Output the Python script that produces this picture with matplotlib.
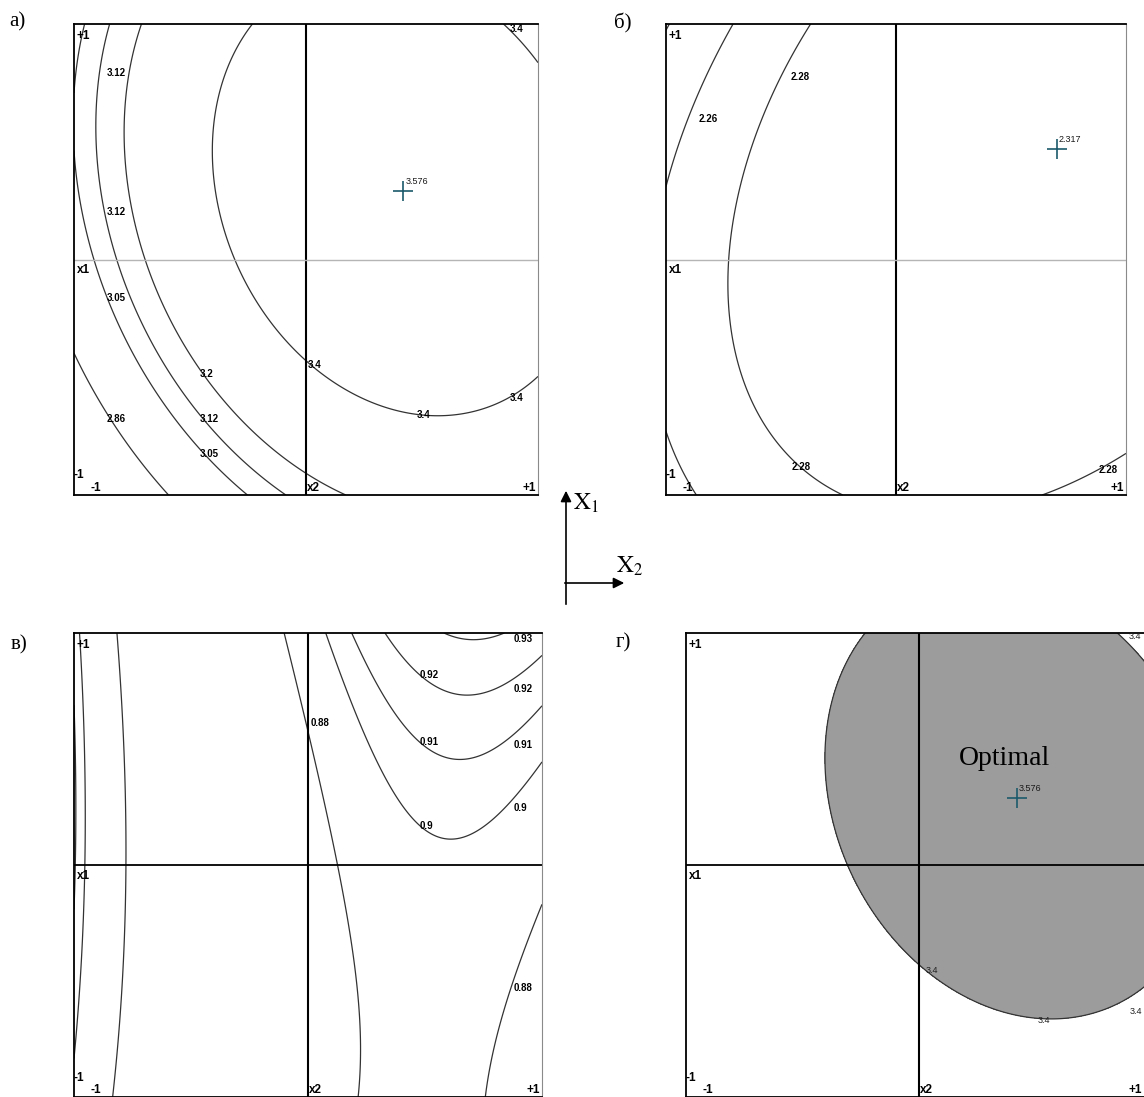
import numpy as np
import matplotlib.pyplot as plt

plt.rcParams['mathtext.fontset'] = 'stix'

W, H = 1144, 1097  # размер рисунка, px

# Коэффициенты моделей в кодированных факторах: b0, b1, b2, b12, b11, b22
# (x2 - по горизонтали, x1 - по вертикали)
coef_a = [3.5018, 0.1509, 0.2492, -0.083, -0.200, -0.268]
coef_b = [2.3075, 0.00673, 0.0226, 0.01416, -0.0177, -0.0209]
coef_c = [0.8695, 0.01235, 0.09305, 0.01743, 0.01022, -0.0778]

levels_a = [2.86, 3.05, 3.12, 3.2, 3.4]
levels_b = [2.24, 2.26, 2.28]
levels_c = [0.70, 0.71, 0.75, 0.88, 0.9, 0.91, 0.92, 0.93]
level_opt = 3.4

# подписи изолиний: текст, x2, x1
labels_a = [('3.12', -0.86, 0.79), ('3.12', -0.86, 0.20), ('3.05', -0.86, -0.165),
            ('3.2', -0.46, -0.485), ('2.86', -0.86, -0.678), ('3.12', -0.46, -0.678),
            ('3.05', -0.46, -0.826), ('3.4', 0.006, -0.45), ('3.4', 0.478, -0.661),
            ('3.4', 0.879, -0.586), ('3.4', 0.879, 0.98)]
labels_b = [('2.28', -0.459, 0.775), ('2.26', -0.858, 0.595),
            ('2.28', -0.454, -0.882), ('2.28', 0.88, -0.893)]
labels_c = [('0.93', 0.878, 0.974), ('0.92', 0.478, 0.821), ('0.92', 0.878, 0.76),
            ('0.88', 0.012, 0.614), ('0.91', 0.478, 0.529), ('0.91', 0.878, 0.519),
            ('0.9', 0.878, 0.246), ('0.9', 0.478, 0.167), ('0.88', 0.878, -0.529)]
labels_d = [('3.4', 0.90, 0.985), ('3.4', 0.03, -0.455), ('3.4', 0.51, -0.67),
            ('3.4', 0.905, -0.63)]

LINE = '#333333'
CROSS = '#1d5a6b'
SANS = 'Liberation Sans'
SERIF = 'Liberation Serif'


def surface(c, x2, x1):
    b0, b1, b2, b12, b11, b22 = c
    return b0 + b1 * x1 + b2 * x2 + b12 * x1 * x2 + b11 * x1 ** 2 + b22 * x2 ** 2


def optimum(c):
    b0, b1, b2, b12, b11, b22 = c
    x1, x2 = np.linalg.solve([[2 * b11, b12], [b12, 2 * b22]], [-b1, -b2])
    return x2, x1, surface(c, x2, x1)


def add_panel(fig, rect, coef, levels, labels, hcolor, show_opt=False,
              fill_level=None, bold=True, right_tick=0.995):
    l, t, r, b = rect
    ax = fig.add_axes([l / W, 1 - b / H, (r - l) / W, (b - t) / H])
    g = np.linspace(-1, 1, 401)
    x2, x1 = np.meshgrid(g, g)
    z = surface(coef, x2, x1)
    if fill_level is not None:
        ax.contourf(x2, x1, z, levels=[fill_level, z.max() + 1], colors=['#9c9c9c'])
    ax.contour(x2, x1, z, levels=levels, colors=LINE, linewidths=0.9)
    ax.axvline(0, color='k', lw=1.5)
    ax.axhline(0, color=hcolor, lw=1.0 if hcolor != 'k' else 1.3)
    ax.set_xlim(-1, 1)
    ax.set_ylim(-1, 1)
    ax.set_xticks([])
    ax.set_yticks([])
    for side in ['top', 'left', 'bottom']:
        ax.spines[side].set_linewidth(1.3)
    ax.spines['right'].set_color('#8a8a8a')

    if bold:
        lab_kw = dict(fontsize=7, fontweight='bold', color='k')
    else:
        lab_kw = dict(fontsize=6.5, fontweight='normal', color='#222222')
    for txt, px2, px1 in labels:
        ax.text(px2, px1, txt, family=SANS, ha='left', va='center', **lab_kw)

    if show_opt:
        ox2, ox1, oy = optimum(coef)
        ax.plot(ox2, ox1, marker='+', ms=14.5, mew=1.2, color=CROSS)
        ax.annotate(f'{oy:.3f}', (ox2, ox1), xytext=(2, 5), textcoords='offset pixels',
                    fontsize=6.5, family=SANS, ha='left', va='bottom', color='#1a1a1a')

    kw = dict(transform=ax.transAxes, fontsize=8.5, fontweight='bold', family=SANS)
    ax.text(0.006, 0.988, '+1', ha='left', va='top', **kw)
    ax.text(0.006, 0.49, 'x1', ha='left', va='top', **kw)
    ax.text(0.0, 0.042, '-1', ha='left', va='center', **kw)
    ax.text(0.035, 0.002, '-1', ha='left', va='bottom', **kw)
    ax.text(0.503, 0.002, 'x2', ha='left', va='bottom', **kw)
    ax.text(right_tick, 0.002, '+1', ha='right', va='bottom', **kw)
    return ax


fig = plt.figure(figsize=(W / 100, H / 100), dpi=100)

add_panel(fig, (74, 24, 538, 495), coef_a, levels_a, labels_a, '#b5b5b5', show_opt=True)
add_panel(fig, (666, 24, 1126, 495), coef_b, levels_b, labels_b, '#b5b5b5', show_opt=True)
add_panel(fig, (74, 633, 542, 1097), coef_c, levels_c, labels_c, 'k')
ax_d = add_panel(fig, (686, 633, 1152, 1097), coef_a, [level_opt], labels_d, 'k',
                 show_opt=True, fill_level=level_opt, bold=False,
                 right_tick=(1142 - 686) / 466)
ax_d.text(0.365, 0.46, 'Optimal', ha='center', va='center', fontsize=20,
          family=SERIF, color='#000000')

# подписи панелей и направления осей
ov = fig.add_axes([0, 0, 1, 1])
ov.set_xlim(0, W)
ov.set_ylim(H, 0)
ov.axis('off')
for txt, x, y in [('а)', 9, 22), ('б)', 614, 23), ('в)', 11, 645), ('г)', 616, 643)]:
    ov.text(x, y, txt, fontsize=15, family=SERIF, ha='left', va='center')

arrow = dict(arrowstyle='-|>', color='k', lw=1.2, mutation_scale=16)
ov.annotate('', xy=(566, 488), xytext=(566, 607), arrowprops=arrow)
ov.annotate('', xy=(627, 583), xytext=(562, 583), arrowprops=arrow)
ov.text(573, 503, r'$\mathrm{X}_1$', fontsize=17, ha='left', va='center')
ov.text(616, 566, r'$\mathrm{X}_2$', fontsize=17, ha='left', va='center')

fig.savefig('out.png', dpi=100)
